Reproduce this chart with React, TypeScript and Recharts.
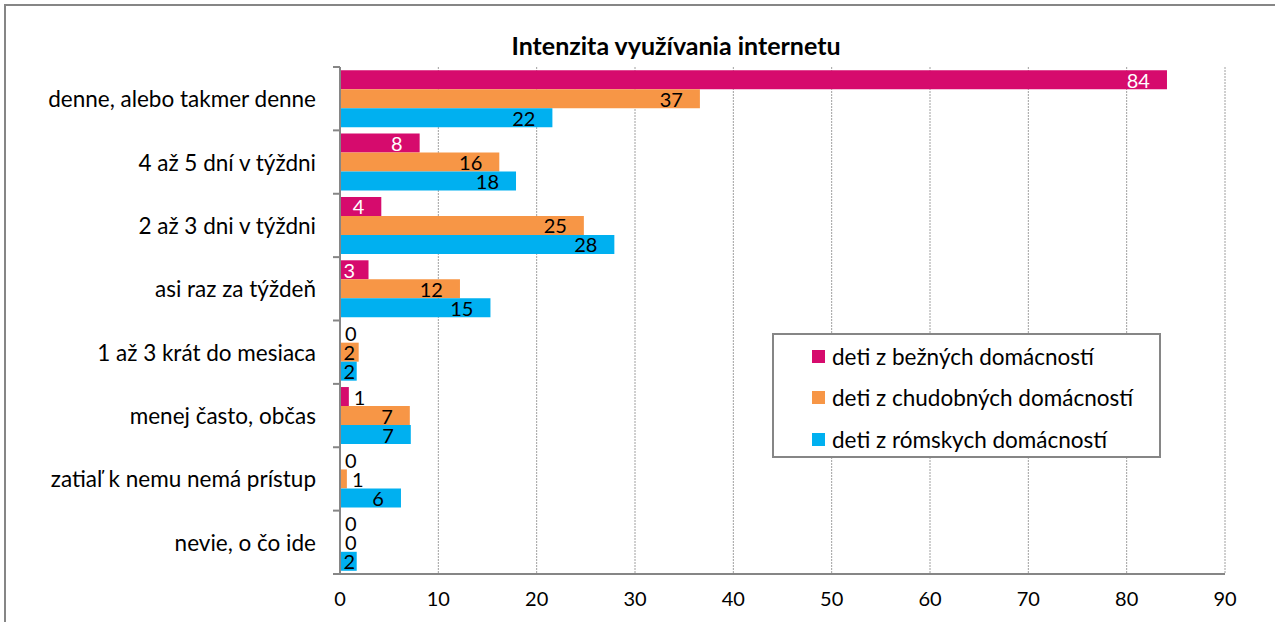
import React from 'react';
import { BarChart, Bar, XAxis, YAxis, CartesianGrid, Legend, LabelList } from 'recharts';

const categories = [
  'denne, alebo takmer denne',
  '4 až 5 dní v týždni',
  '2 až 3 dni v týždni',
  'asi raz za týždeň',
  '1 až 3 krát do mesiaca',
  'menej často, občas',
  'zatiaľ k nemu nemá prístup',
  'nevie, o čo ide',
];
const bezne = [84.1, 8.1, 4.2, 2.9, 0, 0.9, 0, 0];
const chudobne = [36.6, 16.2, 24.8, 12.2, 1.9, 7.1, 0.7, 0];
const romske = [21.6, 17.9, 27.9, 15.3, 1.7, 7.2, 6.2, 1.7];
const xTicks = [0, 10, 20, 30, 40, 50, 60, 70, 80, 90];
const seriesKeys = ['bezne', 'chudobne', 'romske'];
const seriesNames = ['deti z bežných domácností', 'deti z chudobných domácností', 'deti z rómskych domácností'];
const seriesColors = ['#D60B6D', '#F79646', '#00B0F0'];
const labelColors = ['#FFFFFF', '#000000', '#000000'];
const title = 'Intenzita využívania internetu';

const data = categories.map((name, i) => ({ name, bezne: bezne[i], chudobne: chudobne[i], romske: romske[i] }));

const W = 1275;
const H = 622;
const M = { top: 67, right: 50, bottom: 0, left: 0 };
const Y_W = 340;
const X_H = 48;
const FONT = "Lato, 'Open Sans', sans-serif";
const FS_TXT = 22.5;
const FS_NUM = 20;
const AXIS = '#868686';

const bandSize = (H - M.top - M.bottom - X_H) / categories.length;

const YTick = (props: any) => {
  const { x, y, payload, index } = props;
  return (
    <g>
      <line x1={x - 7} x2={x} y1={y - bandSize / 2} y2={y - bandSize / 2} stroke={AXIS} strokeWidth={2} />
      {index === categories.length - 1 && (
        <line x1={x - 7} x2={x} y1={y + bandSize / 2} y2={y + bandSize / 2} stroke={AXIS} strokeWidth={2} />
      )}
      <text x={x - 24} y={y} textAnchor="end" dominantBaseline="central" fontFamily={FONT} fontSize={FS_TXT} fill="#000">
        {payload.value}
      </text>
    </g>
  );
};

const makeLabel = (si: number) => (props: any) => {
  const { x, y, width, height, value } = props;
  const txt = String(Math.round(Number(value)));
  const tw = txt.length * 11;
  const end = Number(x) + Number(width);
  const cy = Number(y) + Number(height) / 2;
  if (Number(width) < 14) {
    return (
      <text x={end + 5} y={cy} textAnchor="start" dominantBaseline="central" fontFamily={FONT} fontSize={FS_NUM} fill="#000">
        {txt}
      </text>
    );
  }
  const right = Math.max(end - 17, Number(x) + 4 + tw);
  return (
    <text x={right} y={cy} textAnchor="end" dominantBaseline="central" fontFamily={FONT} fontSize={FS_NUM} fill={labelColors[si]}>
      {txt}
    </text>
  );
};

const LegendContent = () => (
  <div
    style={{
      boxSizing: 'border-box',
      width: 389,
      height: 125,
      border: `2px solid ${AXIS}`,
      background: '#fff',
      fontFamily: FONT,
      fontSize: FS_TXT,
      position: 'relative',
      textAlign: 'left',
    }}
  >
    {seriesNames.map((n, i) => (
      <div key={n} style={{ position: 'absolute', left: 38, top: 6 + i * 41.5, height: 30, display: 'flex', alignItems: 'center', whiteSpace: 'nowrap' }}>
        <span style={{ display: 'inline-block', width: 13, height: 13, background: seriesColors[i], marginRight: 7 }} />
        <span>{n}</span>
      </div>
    ))}
  </div>
);

export default function App() {
  return (
    <div style={{ position: 'fixed', left: 0, top: 0, width: W, height: H, background: '#fff', overflow: 'hidden' }}>
      <div
        style={{
          position: 'absolute',
          left: 4,
          top: 4,
          width: W + 20,
          height: H + 20,
          border: `2px solid ${AXIS}`,
          boxSizing: 'border-box',
        }}
      />
      <div
        style={{
          position: 'absolute',
          left: 426,
          width: 500,
          top: 29,
          textAlign: 'center',
          fontFamily: FONT,
          fontWeight: 700,
          fontSize: 25,
          lineHeight: '32px',
          color: '#000',
          whiteSpace: 'nowrap',
        }}
      >
        {title}
      </div>
      <div style={{ position: 'absolute', left: 0, top: 0 }}>
        <BarChart
          width={W}
          height={H}
          data={data}
          layout="vertical"
          margin={M}
          barCategoryGap="5%"
          barGap={0}
        >
          <CartesianGrid horizontal={false} vertical stroke="#A0A0A0" strokeDasharray="2 1" />
          <XAxis
            type="number"
            domain={[0, 90]}
            ticks={xTicks}
            interval={0}
            height={X_H}
            axisLine={{ stroke: AXIS, strokeWidth: 2 }}
            tickLine={false}
            tickSize={0}
            tickMargin={18}
            tick={{ fontFamily: FONT, fontSize: FS_NUM, fill: '#000' }}
          />
          <YAxis
            type="category"
            dataKey="name"
            width={Y_W}
            axisLine={{ stroke: AXIS, strokeWidth: 2 }}
            tickLine={false}
            tickSize={0}
            tickMargin={0}
            interval={0}
            tick={<YTick />}
          />
          <Legend
            layout="vertical"
            verticalAlign="middle"
            align="center"
            wrapperStyle={{ position: 'absolute', left: 772, top: 333, width: 389, height: 125, margin: 0, padding: 0 }}
            content={<LegendContent />}
          />
          {seriesKeys.map((k, i) => (
            <Bar key={k} dataKey={k} name={seriesNames[i]} fill={seriesColors[i]} minPointSize={0.01} isAnimationActive={false}>
              <LabelList dataKey={k} content={makeLabel(i)} />
            </Bar>
          ))}
        </BarChart>
      </div>
    </div>
  );
}
